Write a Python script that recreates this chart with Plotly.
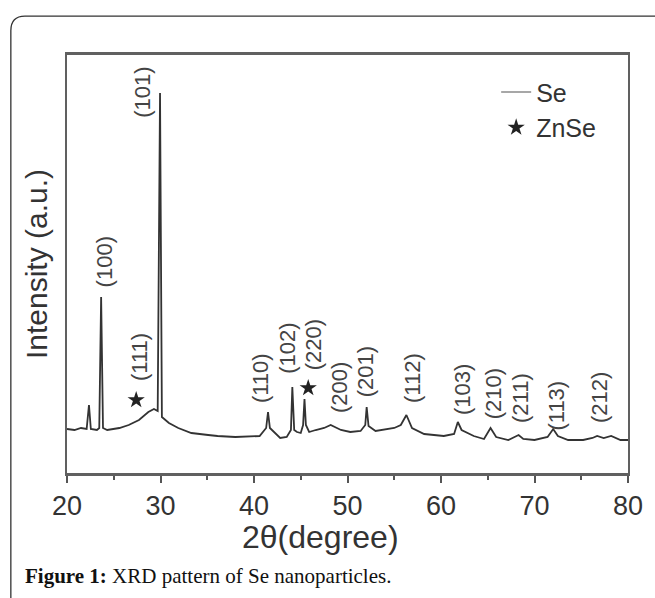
import plotly.graph_objects as go

# ---- data ----
two_theta = [20.0, 20.8, 21.5, 22.1, 22.35, 22.55, 23.2, 23.45, 23.65, 23.85,
             24.3, 25.0, 25.6, 26.6, 27.7, 28.7, 29.3, 29.7, 29.95, 30.15,
             30.9, 31.9, 33.3, 35.1, 36.1, 38.0, 40.6, 41.3, 41.5, 41.7,
             42.2, 42.8, 43.5, 43.95, 44.1, 44.3, 44.6, 45.0, 45.25, 45.4,
             45.55, 45.9, 46.6, 47.5, 48.2, 49.3, 50.3, 51.4, 51.9, 52.05,
             52.25, 53.0, 55.0, 55.7, 56.3, 56.9, 58.2, 60.3, 61.4, 61.8,
             62.2, 63.5, 64.6, 65.3, 65.9, 67.2, 68.3, 68.8, 70.0, 71.4,
             72.0, 72.5, 73.6, 75.2, 76.2, 76.7, 77.4, 78.2, 79.2, 80.0]
intensity = [44, 43, 45, 44, 68, 44, 43, 45, 176, 45,
             43, 44, 45, 48, 53, 61, 64, 62, 380, 56,
             50, 45, 40, 38, 37, 36, 37, 45, 61, 45,
             40, 35, 36, 43, 86, 43, 41, 40, 48, 74,
             48, 41, 43, 45, 48, 43, 41, 42, 48, 66,
             47, 42, 45, 48, 58, 45, 39, 37, 39, 51,
             43, 37, 34, 45, 36, 33, 38, 34, 33, 36,
             44, 37, 33, 33, 35, 37, 35, 37, 33, 33]

peak_labels = ["(100)", "(101)", "(111)", "(110)", "(102)", "(220)", "(200)",
               "(201)", "(112)", "(103)", "(210)", "(211)", "(113)", "(212)"]
label_x = [24.0, 28.0, 27.7, 40.65, 43.5, 46.35, 49.1,
           51.9, 56.9, 62.25, 65.6, 68.45, 72.25, 76.9]
label_y = [211, 381, 116, 95, 125, 128, 85,
           101, 95, 83, 79, 75, 67, 75]

znse_x = [27.4, 45.8]
znse_y = [73, 85]

x_ticks = [20, 30, 40, 50, 60, 70, 80]

TXT = "#333333"
FONT = "Liberation Sans, Arial, sans-serif"

fig = go.Figure()
fig.add_trace(go.Scatter(x=two_theta, y=intensity, mode="lines",
                         line=dict(color="#333333", width=1.8),
                         showlegend=False, hoverinfo="x+y"))
# legend entry for Se (gray line)
fig.add_trace(go.Scatter(x=[None], y=[None], mode="lines", name="Se",
                         line=dict(color="#8a8a8a", width=1.5)))
fig.add_trace(go.Scatter(x=znse_x, y=znse_y, mode="markers", name="ZnSe",
                         marker=dict(symbol="star", size=13, color="#222222")))

for t, xx, yy in zip(peak_labels, label_x, label_y):
    fig.add_annotation(x=xx, y=yy, text=t, showarrow=False, textangle=-90,
                       font=dict(family=FONT, size=22, color="#444444"),
                       xanchor="center", yanchor="middle")

# x axis title (slightly left of centre, as in the reference)
fig.add_annotation(xref="paper", yref="paper", x=0.452, y=-0.153,
                   xanchor="center", yanchor="middle", showarrow=False,
                   text="2θ(degree)",
                   font=dict(family=FONT, size=32, color=TXT))

# caption
fig.add_annotation(xref="paper", yref="paper", x=-0.079, y=-0.246,
                   xanchor="left", yanchor="middle", showarrow=False,
                   text="<b>Figure 1:</b> XRD pattern of Se nanoparticles.",
                   font=dict(family="Liberation Serif, Times New Roman, serif",
                             size=21, color="#111111"))

# card border (rounded top-left corner)
fig.add_shape(type="path", xref="paper", yref="paper",
              path="M -0.1001,-0.32 L -0.1001,1.058 Q -0.1001,1.093 -0.075,1.093 L 1.06,1.093",
              line=dict(color="#333333", width=1.3))

fig.update_layout(
    width=655, height=598,
    margin=dict(l=67, r=18, t=55, b=125),
    paper_bgcolor="white", plot_bgcolor="white",
    font=dict(family=FONT, color=TXT),
    legend=dict(x=0.765, y=0.966, xanchor="left", yanchor="top",
                font=dict(family=FONT, size=25, color=TXT),
                bgcolor="rgba(0,0,0,0)"),
    xaxis=dict(range=[20, 80], tickvals=x_ticks, ticks="outside", ticklen=7,
               tickwidth=1.5, tickcolor="#555555",
               minor=dict(dtick=5, ticks="outside", ticklen=4, tickcolor="#555555"),
               showline=True, linecolor="#606060", linewidth=2.5, mirror=True,
               showgrid=False, zeroline=False,
               tickfont=dict(family=FONT, size=27, color=TXT)),
    yaxis=dict(range=[0, 418], showticklabels=False, ticks="",
               showline=True, linecolor="#606060", linewidth=2, mirror=True,
               showgrid=False, zeroline=False,
               title=dict(text="Intensity (a.u.)", standoff=9,
                          font=dict(family=FONT, size=30, color=TXT))),
)

fig.write_html("out.html", config={"displayModeBar": False},
               post_script="document.body.style.margin='0';document.body.style.overflow='hidden';")
